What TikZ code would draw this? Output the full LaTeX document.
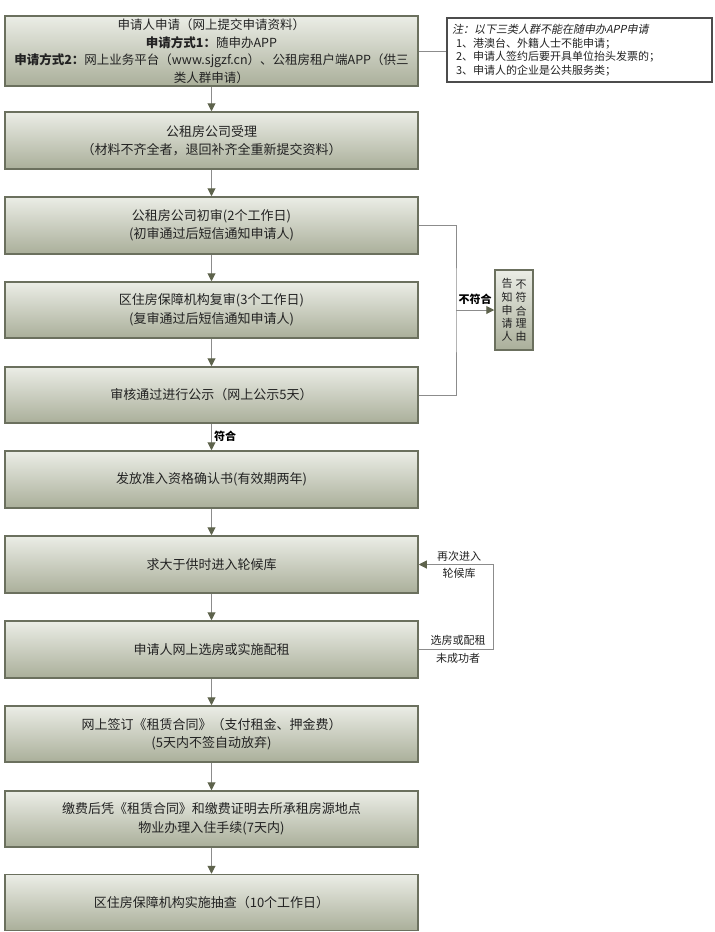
\documentclass[tikz,border=0pt]{standalone}
\usepackage{fontspec}
\setmainfont{Noto Sans CJK SC}
\newfontfamily\slantfont[FakeSlant=0.2]{Noto Sans CJK SC}
\usetikzlibrary{arrows.meta}
\definecolor{boxtop}{HTML}{EBEDE6}
\definecolor{boxbot}{HTML}{AAAF9A}
\definecolor{boxline}{HTML}{6B705E}
\definecolor{connc}{HTML}{8C8C8C}
\definecolor{tipc}{HTML}{5E634C}
\definecolor{txt}{HTML}{222222}
\begin{document}
\begin{tikzpicture}[x=1pt,y=-1pt,
  stepbox/.style={draw=boxline, line width=1.5pt, top color=boxtop, bottom color=boxbot,
    minimum width=413pt, inner sep=0pt, align=center, text=txt,
    font=\fontsize{13}{18.5}\selectfont},
  notebox/.style={draw=black!70, line width=1.3pt, fill=white, minimum width=265pt,
    minimum height=64pt, text width=255pt, inner sep=0pt, align=left, text=txt,
    font=\fontsize{11}{13.5}\selectfont},
  rejbox/.style={draw=boxline, line width=1.5pt, top color=boxtop, bottom color=boxbot,
    minimum width=38pt, minimum height=80pt, inner sep=0pt, text=txt,
    font=\fontsize{11}{11}\selectfont},
  cline/.style={draw=connc, line width=1pt},
  carr/.style={cline, -{Triangle[length=8pt,width=8pt,color=tipc]}},
  lab/.style={font=\fontsize{11}{16}\selectfont, text=txt, inner sep=0pt, align=center},
  blab/.style={font=\fontsize{11}{13}\selectfont\bfseries, text=black, inner sep=0pt}
]
\fill[white] (0,0) rectangle (715,932);
\useasboundingbox (0,0) rectangle (715,932);

\node[stepbox, minimum height=70pt, font=\fontsize{12.5}{17.5}\selectfont] (b1) at (211.5,51)
  {申请人申请（网上提交申请资料）\\\textbf{申请方式1：}随申办APP\\\textbf{申请方式2：}网上业务平台（www.sjgzf.cn）、公租房租户端APP（供三\\类人群申请）};
\node[stepbox, minimum height=57pt] (b2) at (211.5,140.5) {公租房公司受理\\（材料不齐全者，退回补齐全重新提交资料）};
\node[stepbox, minimum height=57pt] (b3) at (211.5,225.5) {公租房公司初审(2个工作日)\\(初审通过后短信通知申请人)};
\node[stepbox, minimum height=56pt] (b4) at (211.5,310) {区住房保障机构复审(3个工作日)\\(复审通过后短信通知申请人)};
\node[stepbox, minimum height=56pt] (b5) at (211.5,395) {审核通过进行公示（网上公示5天）};
\node[stepbox, minimum height=57pt] (b6) at (211.5,479.5) {发放准入资格确认书(有效期两年)};
\node[stepbox, minimum height=57pt] (b7) at (211.5,564.5) {求大于供时进入轮候库};
\node[stepbox, minimum height=57pt] (b8) at (211.5,649.5) {申请人网上选房或实施配租};
\node[stepbox, minimum height=56pt] (b9) at (211.5,734) {网上签订《租赁合同》（支付租金、押金费）\\(5天内不签自动放弃)};
\node[stepbox, minimum height=56pt] (b10) at (211.5,819) {缴费后凭《租赁合同》和缴费证明去所承租房源地点\\物业办理入住手续(7天内)};
\node[stepbox, minimum height=56pt] (b11) at (211.5,902.5) {区住房保障机构实施抽查（10个工作日）};

\node[notebox] (note) at (579.5,50)
  {{\slantfont 注：以下三类人群不能在随申办APP申请}\\
   \hspace*{4pt}1、港澳台、外籍人士不能申请；\\
   \hspace*{4pt}2、申请人签约后要开具单位抬头发票的；\\
   \hspace*{4pt}3、申请人的企业是公共服务类；};

\node[rejbox] (rej) at (514,310)
  {\shortstack{告\\知\\申\\请\\人}\hspace{3pt}\shortstack{不\\符\\合\\理\\由}};

\draw[cline] (b1.east) -- (b1.east -| note.west);
\draw[carr] (b1.south) -- (b2.north);
\draw[carr] (b2.south) -- (b3.north);
\draw[carr] (b3.south) -- (b4.north);
\draw[carr] (b4.south) -- (b5.north);
\draw[carr] (b5.south) -- (b6.north);
\draw[carr] (b6.south) -- (b7.north);
\draw[carr] (b7.south) -- (b8.north);
\draw[carr] (b8.south) -- (b9.north);
\draw[carr] (b9.south) -- (b10.north);
\draw[carr] (b10.south) -- (b11.north);

\coordinate (jr) at (456,310);
\draw[cline] (b3.east) -| (jr) |- (b5.east);
\draw[carr] (jr) -- (rej.west);
\node[blab] (lbno) at (475,299) {不符合};
\node[blab, anchor=west] (lbyes) at (214,436) {符合};

\coordinate (lp) at (493,649.5);
\draw[carr] (b8.east) -- (lp) |- (b7.east);
\node[lab] (lre1) at (459,556) {再次进入};
\node[lab] (lre2) at (459,573) {轮候库};
\node[lab] (lfail1) at (458,640) {选房或配租};
\node[lab] (lfail2) at (458,658) {未成功者};
\end{tikzpicture}
\end{document}
